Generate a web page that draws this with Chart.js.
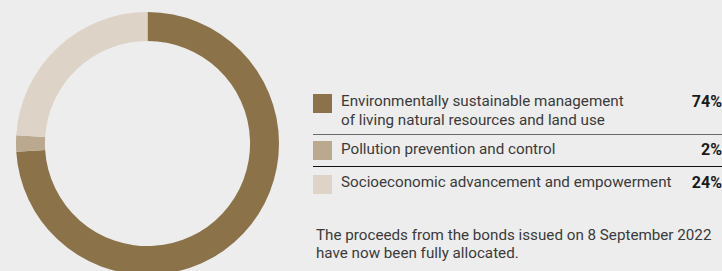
<!DOCTYPE html>
<html lang="en">
<head>
<meta charset="UTF-8">
<title>Allocation of proceeds</title>
<script src="https://cdn.jsdelivr.net/npm/chart.js"></script>
<style>
    html, body {
        margin: 0;
        padding: 0;
        width: 722px;
        height: 271px;
        overflow: hidden;
        background: #ededed;
        font-family: 'Roboto', 'Liberation Sans', sans-serif;
        color: #3a3a3a;
    }
    #chartBox {
        position: absolute;
        left: 16px;
        top: 12px;
        width: 263px;
        height: 263px;
    }
    #legend {
        position: absolute;
        left: 313px;
        top: 92px;
        width: 409px;
        font-size: 15.2px;
    }
    .row {
        position: relative;
        padding-left: 28px;
        line-height: 19px;
        white-space: pre;
    }
    .row .swatch {
        position: absolute;
        left: 0;
        top: 1.5px;
        width: 19px;
        height: 19px;
    }
    .row .pct {
        position: absolute;
        right: 0;
        top: 0;
        font-size: 16px;
        font-weight: bold;
        color: #1a1a1a;
    }
    .sep {
        height: 0;
        border-top: 1.5px solid #666;
    }
    .note {
        position: absolute;
        left: 316px;
        top: 226px;
        font-size: 15.2px;
        line-height: 18px;
    }
</style>
</head>
<body>
<div id="chartBox"><canvas id="donut"></canvas></div>
<div id="legend"></div>
<div class="note">The proceeds from the bonds issued on 8 September 2022<br>have now been fully allocated.</div>

<script>
    // data
    const categories = [
        ['Environmentally sustainable management', 'of living natural resources and land use'],
        ['Pollution prevention and control'],
        ['Socioeconomic advancement and empowerment']
    ];
    const shares = [74, 2, 24];
    const colours = ['#8b7249', '#bba98f', '#ddd3c6'];

    // legend table (spacing tuned by eye)
    const legend = document.getElementById('legend');
    const rowGaps = [0, 4.5, 6.5];
    const sepGaps = [4, 7];
    const sepColours = ['#6a6a6a', '#111'];
    categories.forEach((lines, i) => {
        if (i > 0) {
            const sep = document.createElement('div');
            sep.className = 'sep';
            sep.style.borderTopColor = sepColours[i - 1];
            sep.style.marginTop = sepGaps[i - 1] + 'px';
            legend.appendChild(sep);
        }
        const row = document.createElement('div');
        row.className = 'row';
        row.style.marginTop = rowGaps[i] + 'px';
        const sw = document.createElement('span');
        sw.className = 'swatch';
        sw.style.background = colours[i];
        row.appendChild(sw);
        row.appendChild(document.createTextNode(lines.join('\n')));
        const pct = document.createElement('span');
        pct.className = 'pct';
        pct.textContent = shares[i] + '%';
        row.appendChild(pct);
        legend.appendChild(row);
    });

    new Chart(document.getElementById('donut'), {
        type: 'doughnut',
        data: {
            labels: categories.map(l => l.join(' ')),
            datasets: [{
                data: shares,
                backgroundColor: colours,
                borderWidth: 0,
                hoverOffset: 0
            }]
        },
        options: {
            responsive: true,
            maintainAspectRatio: false,
            animation: false,
            cutout: '78%',
            layout: { padding: 0 },
            plugins: {
                legend: { display: false },
                tooltip: { enabled: false }
            }
        }
    });
</script>
</body>
</html>
